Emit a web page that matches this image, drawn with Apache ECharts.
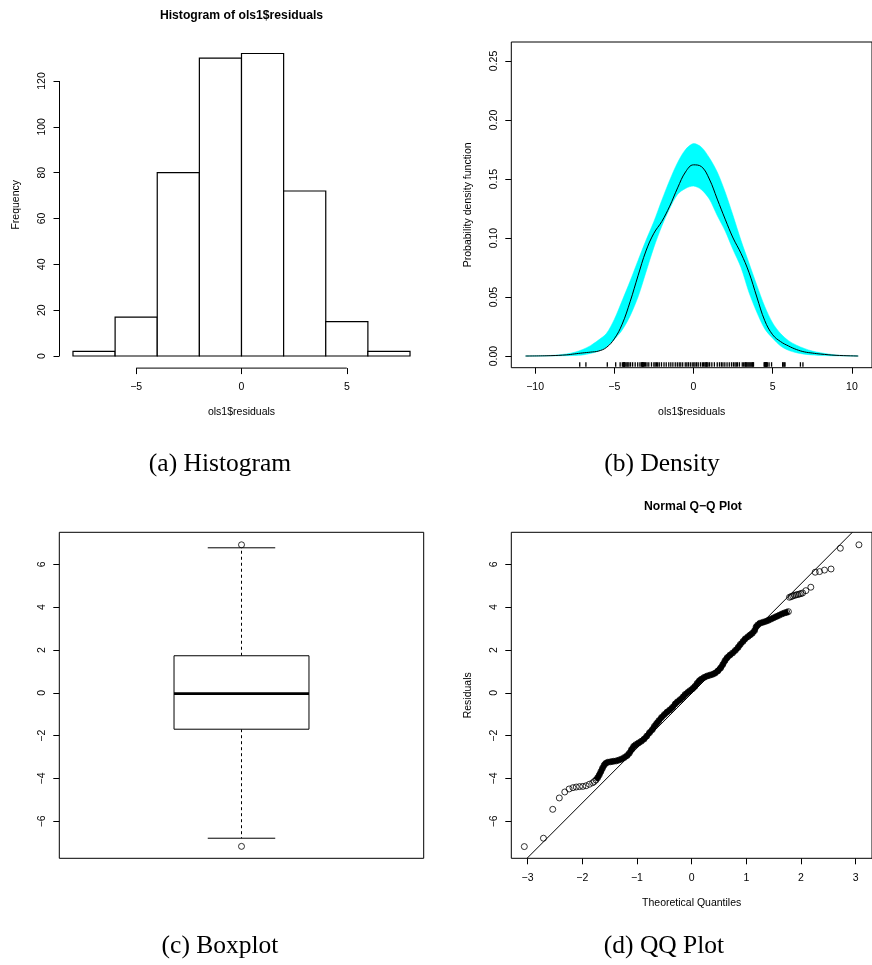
<!DOCTYPE html>
<html><head><meta charset="utf-8">
<script src="https://cdn.jsdelivr.net/npm/echarts@6/dist/echarts.min.js"></script>
<style>html,body{margin:0;padding:0;background:#fff}#c{width:872px;height:965px}</style>
</head><body><div id="c"></div>
<script>
// ---------------- data ----------------
// (a) histogram
const histBreaks = [-8, -6, -4, -2, 0, 2, 4, 6, 8];
const histCounts = [2, 17, 80, 130, 132, 72, 15, 2];
const histXTicks = [-5, 0, 5];
const histYTicks = [0, 20, 40, 60, 80, 100, 120];

// (b) density estimate with reference band
const densX = [-10.6, -9, -8, -7.5, -7, -6.5, -6, -5.5, -5, -4.5, -4, -3.5, -3, -2.5, -2, -1.5, -1, -0.5, 0,
  0.5, 1, 1.5, 2, 2.5, 3, 3.5, 4, 4.5, 5, 5.5, 6, 6.5, 7, 7.5, 8, 9, 10.4];
const densMean = [0, 0.0003, 0.0010, 0.0018, 0.0026, 0.0033, 0.0042, 0.0072, 0.0145, 0.027, 0.046, 0.068, 0.089, 0.104, 0.114, 0.127, 0.1425, 0.156, 0.162,
  0.1605, 0.150, 0.133, 0.116, 0.100, 0.087, 0.071, 0.050, 0.030, 0.018, 0.0122, 0.0085, 0.0055, 0.0035, 0.0025, 0.0017, 0.0006, 0];
const densUpper = [0, 0.0005, 0.0018, 0.0032, 0.0055, 0.0088, 0.0135, 0.019, 0.031, 0.047, 0.0635, 0.081, 0.098, 0.114, 0.132, 0.149, 0.164, 0.175, 0.180,
  0.177, 0.168, 0.156, 0.139, 0.119, 0.098, 0.079, 0.060, 0.042, 0.028, 0.019, 0.0130, 0.0092, 0.0064, 0.0042, 0.0028, 0.0009, 0];
const densLower = [0, 0.0001, 0.0003, 0.0005, 0.0009, 0.0022, 0.004, 0.0075, 0.014, 0.022, 0.034, 0.050, 0.071, 0.092, 0.110, 0.125, 0.137, 0.142, 0.144,
  0.141, 0.133, 0.119, 0.106, 0.090, 0.075, 0.054, 0.037, 0.023, 0.015, 0.0085, 0.0048, 0.0028, 0.0016, 0.0009, 0.0005, 0.0001, 0];
const densXTicks = [-10, -5, 0, 5, 10];
const densYTicks = [0, 0.05, 0.10, 0.15, 0.20, 0.25];

// (c) boxplot: [lower whisker, Q1, median, Q3, upper whisker]
const boxStats = [-6.79, -1.70, -0.04, 1.73, 6.77];
const boxOutliers = [6.91, -7.17];
const residTicks = [-6, -4, -2, 0, 2, 4, 6];

// (d) normal Q-Q plot: theoretical quantile / residual
const qqTheoretical = [
  -3.06, -2.71, -2.54, -2.42, -2.32, -2.24, -2.17, -2.11, -2.05, -1.99, -1.93, -1.87, -1.81, -1.78,
  -1.75, -1.72, -1.69, -1.66, -1.63, -1.60, -1.57, -1.53, -1.48, -1.43,
  -1.38, -1.33, -1.28, -1.23, -1.18, -1.14, -1.10, -1.06, -1.02, -0.97,
  -0.92, -0.87, -0.82, -0.77, -0.72, -0.68, -0.64, -0.60, -0.55, -0.50,
  -0.45, -0.40, -0.35, -0.30, -0.26, -0.21, -0.16, -0.12, -0.07, -0.03,
  0.02, 0.06, 0.10, 0.14, 0.18, 0.23, 0.28, 0.33, 0.38, 0.43,
  0.48, 0.53, 0.57, 0.61, 0.65, 0.70, 0.75, 0.80, 0.85, 0.89,
  0.94, 0.98, 1.03, 1.07, 1.11, 1.15, 1.18, 1.21, 1.25, 1.30,
  1.35, 1.40, 1.45, 1.50, 1.55, 1.60, 1.65, 1.70, 1.74, 1.77,
  1.79, 1.82, 1.85, 1.88, 1.91, 1.94, 1.97, 2.00, 2.03, 2.09, 2.18, 2.26, 2.34, 2.43, 2.55, 2.72, 3.06];
const qqResiduals = [
  -7.18, -6.79, -5.44, -4.91, -4.63, -4.49, -4.43, -4.40, -4.38, -4.37, -4.34, -4.27, -4.20, -4.14,
  -4.07, -3.97, -3.84, -3.68, -3.52, -3.38, -3.29, -3.24, -3.22, -3.20,
  -3.18, -3.14, -3.09, -3.02, -2.93, -2.82, -2.65, -2.50, -2.42, -2.34,
  -2.26, -2.16, -2.02, -1.86, -1.72, -1.56, -1.43, -1.30, -1.15, -1.02,
  -0.90, -0.80, -0.68, -0.52, -0.42, -0.32, -0.20, -0.08, 0.02, 0.10,
  0.20, 0.30, 0.44, 0.56, 0.64, 0.72, 0.78, 0.82, 0.86, 0.92,
  1.02, 1.16, 1.32, 1.50, 1.64, 1.76, 1.86, 1.98, 2.12, 2.26,
  2.40, 2.52, 2.62, 2.70, 2.78, 2.90, 3.08, 3.17, 3.25, 3.29,
  3.33, 3.38, 3.44, 3.50, 3.56, 3.62, 3.68, 3.73, 3.76, 3.79,
  4.46, 4.49, 4.52, 4.55, 4.57, 4.59, 4.61, 4.63, 4.66, 4.77, 4.93, 5.63, 5.66, 5.73, 5.78, 6.75, 6.91];
const qqDenseRange = [-1.75, 1.77];            // overlapping circles form a solid band here
const qqLineEnds = [[-3.01, -7.727], [2.94, 7.494]]; // qqline where it meets the frame
const qqXTicks = [-3, -2, -1, 0, 1, 2, 3];

// text
const titles = { hist: 'Histogram of ols1$residuals', qq: 'Normal Q\u2212Q Plot' };
const captions = ['(a) Histogram', '(b) Density', '(c) Boxplot', '(d) QQ Plot'];
const axisNames = { resid: 'ols1$residuals', freq: 'Frequency', pdf: 'Probability density function', qqx: 'Theoretical Quantiles', qqy: 'Residuals' };

// ---------------- chart ----------------
const FONT = '"Liberation Sans", Arial, Helvetica, sans-serif';
const SERIF = '"Liberation Serif", "Times New Roman", serif';
const FS = 10.5;
const minus = s => String(s).replace('-', '\u2212');
const fmtInt = v => minus(Math.round(v));
const fmt2 = v => v.toFixed(2);

function axis(grid, min, max, ticks, fmt, opts) {
  opts = opts || {};
  return {
    type: 'value', gridIndex: grid, min: min, max: max, scale: true,
    axisLine: { show: false, onZero: false },
    axisTick: { show: !!ticks, customValues: ticks || [], length: 6, lineStyle: { color: '#000', width: 1 } },
    axisLabel: { show: !!ticks, customValues: ticks || [], formatter: fmt, color: '#000', fontFamily: FONT, fontSize: FS,
      margin: opts.margin != null ? opts.margin : 13, rotate: opts.rotate || 0, showMinLabel: true, showMaxLabel: true, hideOverlap: false },
    splitLine: { show: false },
    name: opts.name || '', nameLocation: 'middle', nameGap: opts.nameGap || 38,
    nameTextStyle: { color: '#000', fontFamily: FONT, fontSize: FS }
  };
}

const gridBox = { show: true, borderColor: '#000', borderWidth: 1, backgroundColor: 'transparent' };
const grids = [
  { left: 59.5, top: 41.4, width: 364, height: 326.7, show: false },
  Object.assign({ left: 511.3, top: 42, width: 363.5, height: 325.7 }, gridBox),
  Object.assign({ left: 59.3, top: 532.3, width: 364.4, height: 326 }, gridBox),
  Object.assign({ left: 511.3, top: 532.3, width: 363.5, height: 326 }, gridBox)
];

const xAxes = [
  axis(0, -8.64, 8.64, histXTicks, fmtInt, { name: axisNames.resid, nameGap: 39, margin: 14 }),
  axis(1, -11.5, 11.27, densXTicks, fmtInt, { name: axisNames.resid, nameGap: 39, margin: 14 }),
  axis(2, 0.46, 1.54, null, fmtInt, {}),
  axis(3, -3.298, 3.299, qqXTicks, fmtInt, { name: axisNames.qqx, nameGap: 39, margin: 14 })
];
const yAxes = [
  axis(0, -5.28, 137.28, histYTicks, fmtInt, { name: axisNames.freq, nameGap: 38, rotate: 90, margin: 12 }),
  axis(1, -0.0099, 0.2661, densYTicks, fmt2, { name: axisNames.pdf, nameGap: 38, rotate: 90, margin: 12 }),
  axis(2, -7.727, 7.494, residTicks, fmtInt, { rotate: 90, margin: 12 }),
  axis(3, -7.727, 7.494, residTicks, fmtInt, { name: axisNames.qqy, nameGap: 38, rotate: 90, margin: 12 })
];

const lineStyleBlack = { stroke: '#000', lineWidth: 1 };
const series = [];

// (a) histogram bars
series.push({
  type: 'custom', name: 'hist', xAxisIndex: 0, yAxisIndex: 0,
  data: histCounts.map((c, i) => [histBreaks[i], histBreaks[i + 1], c]),
  encode: { x: [0, 1], y: 2 },
  renderItem(params, api) {
    const p0 = api.coord([api.value(0), 0]);
    const p1 = api.coord([api.value(1), api.value(2)]);
    return { type: 'rect', shape: { x: p0[0], y: p1[1], width: p1[0] - p0[0], height: p0[1] - p1[1] },
      style: { fill: '#fff', stroke: '#000', lineWidth: 1.2 } };
  }
});
// (a) R-style axis lines spanning first..last tick
series.push({
  type: 'custom', name: 'histAxes', xAxisIndex: 0, yAxisIndex: 0, silent: true, z: 5,
  data: [[0, 0]],
  renderItem(params, api) {
    const cs = params.coordSys;
    const bottom = cs.y + cs.height;
    const ya = api.coord([0, histYTicks[0]])[1], yb = api.coord([0, histYTicks[histYTicks.length - 1]])[1];
    const xa = api.coord([histXTicks[0], 0])[0], xb = api.coord([histXTicks[histXTicks.length - 1], 0])[0];
    return { type: 'group', children: [
      { type: 'line', shape: { x1: cs.x, y1: ya, x2: cs.x, y2: yb }, style: lineStyleBlack },
      { type: 'line', shape: { x1: xa, y1: bottom, x2: xb, y2: bottom }, style: lineStyleBlack }
    ] };
  }
});

// (b) reference band
series.push({
  type: 'custom', name: 'band', xAxisIndex: 1, yAxisIndex: 1, silent: true, z: 1,
  data: [[0, 0]],
  renderItem(params, api) {
    const pts = [];
    densX.forEach((x, i) => pts.push(api.coord([x, densUpper[i]])));
    for (let i = densX.length - 1; i >= 0; i--) pts.push(api.coord([densX[i], densLower[i]]));
    return { type: 'polygon', shape: { points: pts, smooth: 0.3 }, style: { fill: '#00FFFF', stroke: '#00FFFF', lineWidth: 0.5 } };
  }
});
// (b) density estimate
series.push({
  type: 'line', name: 'density', xAxisIndex: 1, yAxisIndex: 1, z: 3,
  data: densX.map((x, i) => [x, densMean[i]]),
  smooth: 0.4, showSymbol: false, symbol: 'none',
  lineStyle: { color: '#000', width: 1 }
});
// (b) rug
series.push({
  type: 'custom', name: 'rug', xAxisIndex: 1, yAxisIndex: 1, silent: true, z: 3,
  data: qqResiduals.map(v => [v, 0]),
  renderItem(params, api) {
    const cs = params.coordSys;
    const x = api.coord([api.value(0), 0])[0];
    const b = cs.y + cs.height;
    return { type: 'line', shape: { x1: x, y1: b - 1, x2: x, y2: b - 5.5 }, style: { stroke: '#000', lineWidth: 1.3 } };
  }
});

// (c) boxplot
series.push({
  type: 'custom', name: 'boxplot', xAxisIndex: 2, yAxisIndex: 2, z: 2,
  data: [[1].concat(boxStats)],
  renderItem(params, api) {
    const x = api.value(0);
    const lo = api.value(1), q1 = api.value(2), med = api.value(3), q3 = api.value(4), hi = api.value(5);
    const bw = 0.2, cw = 0.1;
    const c = (a, b) => api.coord([a, b]);
    const seg = (a, b, st) => ({ type: 'line', shape: { x1: a[0], y1: a[1], x2: b[0], y2: b[1] }, style: st });
    const dash = { stroke: '#000', lineWidth: 1, lineDash: [3, 3] };
    const tl = c(x - bw, q3), br = c(x + bw, q1);
    return { type: 'group', children: [
      seg(c(x, q3), c(x, hi), dash),
      seg(c(x, q1), c(x, lo), dash),
      seg(c(x - cw, hi), c(x + cw, hi), lineStyleBlack),
      seg(c(x - cw, lo), c(x + cw, lo), lineStyleBlack),
      { type: 'rect', shape: { x: tl[0], y: tl[1], width: br[0] - tl[0], height: br[1] - tl[1] }, style: { fill: '#fff', stroke: '#000', lineWidth: 1 } },
      seg(c(x - bw, med), c(x + bw, med), { stroke: '#000', lineWidth: 2.6 })
    ] };
  }
});
series.push({
  type: 'scatter', name: 'outliers', xAxisIndex: 2, yAxisIndex: 2, z: 3,
  data: boxOutliers.map(v => [1, v]),
  symbol: 'circle', symbolSize: 6,
  itemStyle: { color: 'rgba(0,0,0,0)', borderColor: '#000', borderWidth: 1 }
});

// (d) Q-Q plot
series.push({
  type: 'line', name: 'qqline', xAxisIndex: 3, yAxisIndex: 3, z: 2,
  data: qqLineEnds, showSymbol: false, symbol: 'none',
  lineStyle: { color: '#000', width: 1 }
});
const qqPairs = qqTheoretical.map((q, i) => [q, qqResiduals[i]]);
series.push({
  type: 'line', name: 'qqDense', xAxisIndex: 3, yAxisIndex: 3, z: 3,
  data: qqPairs.filter(p => p[0] >= qqDenseRange[0] && p[0] <= qqDenseRange[1]),
  showSymbol: false, symbol: 'none', smooth: 0.3,
  lineStyle: { color: '#000', width: 5.5 }
});
series.push({
  type: 'scatter', name: 'qq', xAxisIndex: 3, yAxisIndex: 3, z: 4,
  data: qqPairs, symbol: 'circle', symbolSize: 6,
  itemStyle: { color: 'rgba(0,0,0,0)', borderColor: '#000', borderWidth: 1 }
});

const titleStyle = { color: '#000', fontFamily: FONT, fontSize: 12.2, fontWeight: 'bold' };
const capStyle = { color: '#000', fontFamily: SERIF, fontSize: 25.5, fontWeight: 'normal' };
const title = [
  { text: titles.hist, left: 241.5, top: 16, textAlign: 'center', textVerticalAlign: 'middle', padding: 0, textStyle: titleStyle },
  { text: titles.qq, left: 693, top: 507, textAlign: 'center', textVerticalAlign: 'middle', padding: 0, textStyle: titleStyle },
  { text: captions[0], left: 220, top: 464, textAlign: 'center', textVerticalAlign: 'middle', padding: 0, textStyle: capStyle },
  { text: captions[1], left: 662, top: 464, textAlign: 'center', textVerticalAlign: 'middle', padding: 0, textStyle: capStyle },
  { text: captions[2], left: 220, top: 946, textAlign: 'center', textVerticalAlign: 'middle', padding: 0, textStyle: capStyle },
  { text: captions[3], left: 664, top: 946, textAlign: 'center', textVerticalAlign: 'middle', padding: 0, textStyle: capStyle }
];

const chart = echarts.init(document.getElementById('c'), null, { renderer: 'canvas' });
chart.setOption({
  animation: false,
  backgroundColor: '#fff',
  title: title,
  grid: grids,
  xAxis: xAxes,
  yAxis: yAxes,
  series: series
});
</script>
</body></html>
